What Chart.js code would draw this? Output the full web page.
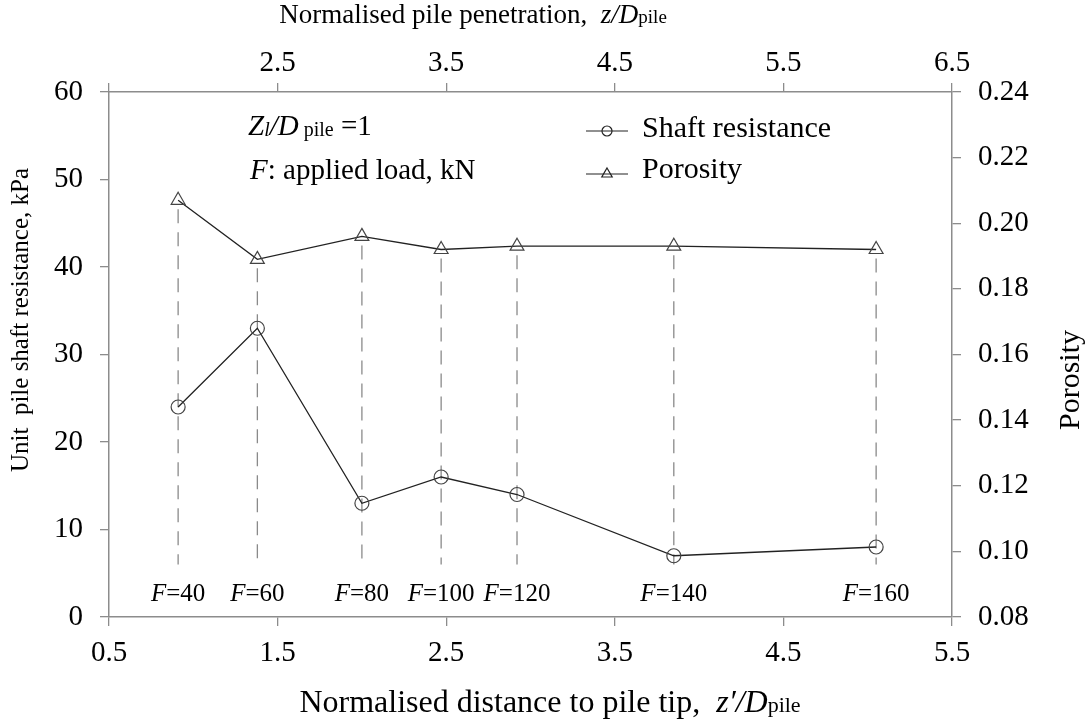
<!DOCTYPE html>
<html>
<head>
<meta charset="utf-8">
<script src="https://cdn.jsdelivr.net/npm/chart.js@4.4.1/dist/chart.umd.min.js"></script>
<style>
  body { margin: 0; background: #fff; }
  #wrap { width: 1090px; height: 725px; }
</style>
</head>
<body>
<div id="wrap"><canvas id="myChart"></canvas></div>
<script>
const loads = [40, 60, 80, 100, 120, 140, 160];
const distance = [0.91, 1.38, 2.0, 2.47, 2.92, 3.85, 5.05];
const shaftResistance = [24, 33, 13, 16, 14, 7, 8];
const porosity = [0.207, 0.189, 0.196, 0.192, 0.193, 0.193, 0.192];
const bottomTicks = [0.5, 1.5, 2.5, 3.5, 4.5, 5.5];
const topTicks = [1.5, 2.5, 3.5, 4.5, 5.5, 6.5];
const leftTicks = [0, 10, 20, 30, 40, 50, 60];
const rightTicks = [0.08, 0.10, 0.12, 0.14, 0.16, 0.18, 0.20, 0.22, 0.24];

const serif = '"Liberation Serif", "Times New Roman", serif';
const axisGrey = '#8c8c8c';
const lineDark = '#222';

function font(size, italic) {
  return (italic ? 'italic ' : '') + size + 'px ' + serif;
}

// pieces: [text, size, italic, dy]
function richText(c, pieces, x, y, align) {
  let w = 0;
  pieces.forEach(p => { c.font = font(p[1], p[2]); w += c.measureText(p[0]).width; });
  let cx = align === 'center' ? x - w / 2 : x;
  c.textAlign = 'left';
  c.textBaseline = 'alphabetic';
  c.fillStyle = '#000';
  pieces.forEach(p => {
    c.font = font(p[1], p[2]);
    c.fillText(p[0], cx, y + (p[3] || 0));
    cx += c.measureText(p[0]).width;
  });
}

function marker(c, style, x, y, r) {
  c.beginPath();
  if (style === 'circle') {
    c.arc(x, y, r, 0, Math.PI * 2);
  } else {
    c.moveTo(x, y - r);
    c.lineTo(x + r * 0.866, y + r * 0.5);
    c.lineTo(x - r * 0.866, y + r * 0.5);
    c.closePath();
  }
  c.stroke();
}

const extras = {
  id: 'extras',
  beforeDatasetsDraw(chart) {
    const c = chart.ctx, x = chart.scales.x, y = chart.scales.y, y2 = chart.scales.y2;
    c.save();
    c.strokeStyle = '#8a8a8a';
    c.lineWidth = 1.3;
    c.setLineDash([14, 9]);
    distance.forEach((d, i) => {
      const px = x.getPixelForValue(d);
      c.beginPath();
      c.moveTo(px, y2.getPixelForValue(porosity[i]) + 9);
      c.lineTo(px, y.getPixelForValue(6));
      c.stroke();
    });
    c.restore();
  },
  afterDraw(chart) {
    const c = chart.ctx, x = chart.scales.x;
    c.save();
    // load labels
    loads.forEach((f, i) => {
      richText(c, [['F', 25, true], ['=' + f, 25, false]], x.getPixelForValue(distance[i]), 601, 'center');
    });
    // annotation
    richText(c, [['Z', 29, true], ['l', 20, true, 1], ['/D', 29, true], [' pile', 20, false, 1], [' =1', 29, false]], 248, 135, 'left');
    richText(c, [['F', 29, true], [': applied load, kN', 29, false]], 250, 179, 'left');
    // legend
    const ds = chart.data.datasets;
    [[131, 137, ds[0]], [174, 178, ds[1]]].forEach(([ly, tb, d]) => {
      c.strokeStyle = lineDark;
      c.lineWidth = 1.2;
      c.beginPath();
      c.moveTo(586, ly);
      c.lineTo(628, ly);
      c.stroke();
      marker(c, d.pointStyle, 607, ly, d.pointStyle === 'circle' ? 5 : 6);
      richText(c, [[d.label, 30, false]], 642, tb, 'left');
    });
    // axis titles
    richText(c, [['Normalised distance to pile tip,  ', 32, false], ['z\u2032/D', 32, true], ['pile', 22, false]], 550, 712, 'center');
    richText(c, [['Normalised pile penetration,  ', 27, false], ['z/D', 27, true], ['pile', 19, false]], 473, 23, 'center');
    c.translate(28, 320);
    c.rotate(-Math.PI / 2);
    richText(c, [['Unit  pile shaft resistance, kPa', 25, false]], 0, 0, 'center');
    c.restore();
    c.save();
    c.translate(1079, 380);
    c.rotate(-Math.PI / 2);
    richText(c, [['Porosity', 30, false]], 0, 0, 'center');
    c.restore();
  }
};

const tickFont = { family: serif, size: 29 };
const axisBase = {
  grid: { drawOnChartArea: false, drawTicks: true, tickLength: 9, color: axisGrey, lineWidth: 1.3 },
  border: { display: true, color: axisGrey, width: 1.5 },
};

new Chart(document.getElementById('myChart'), {
  type: 'line',
  data: {
    datasets: [
      {
        label: 'Shaft resistance',
        data: distance.map((d, i) => ({ x: d, y: shaftResistance[i] })),
        xAxisID: 'x', yAxisID: 'y',
        borderColor: lineDark, borderWidth: 1.3,
        pointStyle: 'circle', pointRadius: 7, pointBorderWidth: 1.2,
        pointBorderColor: '#444', pointBackgroundColor: 'rgba(0,0,0,0)',
        tension: 0
      },
      {
        label: 'Porosity',
        data: distance.map((d, i) => ({ x: d, y: porosity[i] })),
        xAxisID: 'x', yAxisID: 'y2',
        borderColor: lineDark, borderWidth: 1.3,
        pointStyle: 'triangle', pointRadius: 8, pointBorderWidth: 1.2,
        pointBorderColor: '#444', pointBackgroundColor: 'rgba(0,0,0,0)',
        tension: 0
      }
    ]
  },
  options: {
    responsive: true,
    maintainAspectRatio: false,
    animation: false,
    layout: { padding: 0 },
    plugins: { legend: { display: false }, tooltip: { enabled: false } },
    scales: {
      x: {
        ...axisBase, type: 'linear', position: 'bottom', min: 0.5, max: 5.5,
        afterBuildTicks: s => { s.ticks = bottomTicks.map(v => ({ value: v })); },
        afterFit: s => { s.height = 108; },
        ticks: { font: tickFont, color: '#000', padding: 10, maxRotation: 0, callback: v => v.toFixed(1) }
      },
      x2: {
        ...axisBase, type: 'linear', position: 'top', min: 1.5, max: 6.5,
        afterBuildTicks: s => { s.ticks = topTicks.map(v => ({ value: v })); },
        afterFit: s => { s.height = 92; },
        ticks: { font: tickFont, color: '#000', padding: 2, maxRotation: 0, callback: v => v === 1.5 ? '' : v.toFixed(1) }
      },
      y: {
        ...axisBase, type: 'linear', position: 'left', min: 0, max: 60,
        afterBuildTicks: s => { s.ticks = leftTicks.map(v => ({ value: v })); },
        afterFit: s => { s.width = 109; },
        ticks: { font: tickFont, color: '#000', padding: 17, callback: v => String(v) }
      },
      y2: {
        ...axisBase, type: 'linear', position: 'right', min: 0.08, max: 0.24,
        afterBuildTicks: s => { s.ticks = rightTicks.map(v => ({ value: v })); },
        afterFit: s => { s.width = 138; },
        ticks: { font: tickFont, color: '#000', padding: 17, callback: v => v.toFixed(2) }
      }
    }
  },
  plugins: [extras]
});
</script>
</body>
</html>
